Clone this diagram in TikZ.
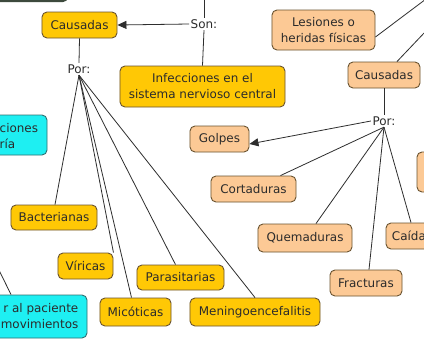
\documentclass[tikz,border=0pt]{standalone}
\usepackage{fontspec}
\setmainfont{DejaVu Sans}
\usetikzlibrary{arrows.meta}
\definecolor{yel}{HTML}{FFC805}
\definecolor{ora}{HTML}{FCC995}
\definecolor{cya}{HTML}{1EEFF2}
\definecolor{bord}{HTML}{6A5330}
\definecolor{cbord}{HTML}{2F6F70}
\definecolor{txt}{HTML}{2B2B2B}
\definecolor{lin}{HTML}{2E2E2E}
\definecolor{strip}{HTML}{3D4A3D}
\tikzset{
  box/.style={draw=bord, line width=0.9bp, rounded corners=5bp, inner sep=0pt, align=center, text=txt,
    font=\fontsize{12}{16}\selectfont},
  ybox/.style={box, fill=yel},
  obox/.style={box, fill=ora},
  cbox/.style={box, fill=cya, draw=cbord},
  phrase/.style={text=txt, inner sep=1.5bp, font=\fontsize{12}{16}\selectfont},
  conn/.style={draw=lin, line width=0.8bp},
  arr/.style={conn, -{Triangle[length=9bp, width=8bp]}},
}
\begin{document}
\begin{tikzpicture}[x=1bp, y=-1bp]
\useasboundingbox (0,0) rectangle (424,344);
\clip (0,0) rectangle (424,344);
\fill[white] (0,0) rectangle (424,344);
% partial box at top left
\draw[draw=strip, line width=2bp, rounded corners=4bp] (-40,-40) rectangle (67,1) ;
% left side
\node[ybox, minimum width=75bp, minimum height=26bp] (cau1) at (79.5,25) {Causadas};
\node[phrase] (son) at (204,24) {Son:};
\coordinate (sontop) at (204,-2);
\node[ybox, minimum width=165bp, minimum height=41bp] (inf) at (202.5,86.5) {Infecciones en el\\sistema nervioso central};
\node[phrase] (por1) at (79,69) {Por:};
\node[ybox, minimum width=86bp, minimum height=25bp] (bac) at (54,217.5) {Bacterianas};
\node[ybox, minimum width=55bp, minimum height=26bp] (vir) at (85.5,266) {Víricas};
\node[ybox, minimum width=87bp, minimum height=25bp] (par) at (180.5,277.5) {Parasitarias};
\node[ybox, minimum width=71bp, minimum height=28bp] (mic) at (135.5,312) {Micóticas};
\node[ybox, minimum width=130bp, minimum height=28bp] (men) at (255,312) {Meningoencefalitis};
\node[cbox, minimum width=90bp, minimum height=40bp] (cy1) at (2,135) {};
\node[phrase, anchor=west, align=left] (cy1t) at (-2,136) {ciones\\ría};
\node[cbox, minimum width=160bp, minimum height=43bp] (cy2) at (7,316.5) {};
\node[phrase, anchor=east, align=right] (cy2t) at (80,316.5) {r al paciente\\movimientos\hspace{3bp}};
\coordinate (cy2in) at (-4,264);
% right side
\node[obox, minimum width=103bp, minimum height=40bp] (les) at (323.5,30) {Lesiones o\\heridas físicas};
\coordinate (lesout) at (426,-1);
\node[obox, minimum width=72bp, minimum height=26bp] (cau2) at (384,75) {Causadas};
\coordinate (cau2out) at (426,31);
\node[phrase] (por2) at (384,121) {Por:};
\node[obox, minimum width=59bp, minimum height=26bp] (gol) at (219.5,139) {Golpes};
\node[obox, minimum width=85bp, minimum height=26bp] (cor) at (253.5,189) {Cortaduras};
\node[obox, minimum width=94bp, minimum height=28bp] (que) at (305,238) {Quemaduras};
\node[obox, minimum width=72bp, minimum height=26bp] (fra) at (366,283) {Fracturas};
\node[obox, minimum width=52bp, minimum height=26bp] (cai) at (412,236) {Caídas};
\node[obox, minimum width=56bp, minimum height=40bp] (rbox) at (445,172) {};
% connectors left
\draw[conn] (sontop) -- (son.north);
\draw[conn] (son.south) -- (inf.north);
\draw[arr] (son.west) -- (cau1.east);
\draw[conn] (cau1.south) -- (por1.north);
\draw[conn] (por1.south) -- ([xshift=1bp]bac.north);
\draw[conn] (por1.south) -- (vir.north east);
\draw[conn] (por1.south) -- ([xshift=-4bp]mic.north);
\draw[conn] (por1.south) -- ([xshift=-5bp]par.north);
\draw[conn] (por1.south) -- (men.north);
\draw[conn] (cy2in) -- ([xshift=4bp]cy2.north);
% connectors right
\draw[conn] ([yshift=-7bp]les.east) -- (lesout);
\draw[conn] ([xshift=13bp]cau2.north) -- (cau2out);
\draw[conn] (cau2.south) -- (por2.north);
\draw[arr] (por2.west) -- ([yshift=-5bp]gol.east);
\draw[conn] (por2.south) -- ([xshift=27bp]cor.north);
\draw[conn] (por2.south) -- ([xshift=11bp]que.north);
\draw[conn] (por2.south) -- ([xshift=3bp]fra.north);
\draw[conn] (por2.south) -- ([xshift=-1bp]cai.north);
\end{tikzpicture}
\end{document}
